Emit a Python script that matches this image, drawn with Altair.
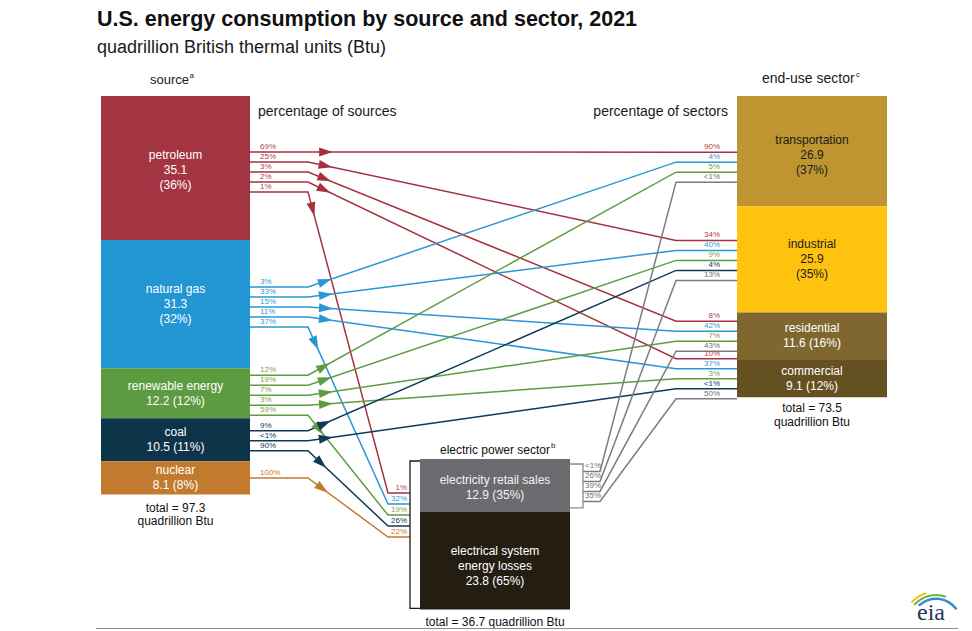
import math
import altair as alt
import pandas as pd

# ---------------- data ----------------
sources = ["petroleum", "natural gas", "renewable energy", "coal", "nuclear"]
source_values = [35.1, 31.3, 12.2, 10.5, 8.1]
source_shares = ["36%", "32%", "12%", "11%", "8%"]
source_total = 97.3

sectors = ["transportation", "industrial", "residential", "commercial"]
sector_values = [26.9, 25.9, 11.6, 9.1]
sector_shares = ["37%", "35%", "16%", "12%"]
sector_total = 73.5

power_parts = ["electricity retail sales", "electrical system energy losses"]
power_label_lines = [["electricity retail sales"], ["electrical system", "energy losses"]]
power_values = [12.9, 23.8]
power_shares = ["35%", "65%"]
power_total = 36.7

POWER = "electric power"
RETAIL = "electricity retail sales"

flow_from = ["petroleum"] * 5 + ["natural gas"] * 5 + ["renewable energy"] * 5 + ["coal"] * 3 + ["nuclear"] + [RETAIL] * 4
flow_to = (sectors + [POWER]) * 3 + ["industrial", "commercial", POWER] + [POWER] + sectors
flow_pct_source = ["69%", "25%", "3%", "2%", "1%",
                   "3%", "33%", "15%", "11%", "37%",
                   "12%", "19%", "7%", "3%", "59%",
                   "9%", "<1%", "90%",
                   "100%",
                   "<1%", "26%", "39%", "35%"]
flow_pct_target = ["90%", "34%", "8%", "10%", "1%",
                   "4%", "40%", "42%", "37%", "32%",
                   "5%", "9%", "7%", "3%", "19%",
                   "4%", "<1%", "26%",
                   "22%",
                   "<1%", "13%", "43%", "50%"]

# ---------------- layout / style ----------------
FONT = "Liberation Sans"
K = 4.1
SRC_X0, SRC_X1 = 101, 250
SEC_X0, SEC_X1 = 737, 887
PWR_X0, PWR_X1 = 420, 570
TOP = 96
PWR_TOP = 459

src_fill = ["#A33441", "#2196D3", "#5C9B40", "#0D3449", "#C27A2E"]
src_line = ["#A6323F", "#2A97D5", "#5E9C40", "#0F3A55", "#C47A2C"]
src_lbl = ["#B0404C", "#2E9AD6", "#7FA23A", "#0F3A55", "#C47A2C"]
sec_fill = ["#BE9531", "#FDC30E", "#80672F", "#655022"]
sec_text = ["#1b1b1b", "#1b1b1b", "#ffffff", "#ffffff"]
pwr_fill = ["#6A6B6E", "#241D12"]
pwr_text = ["#f2f2f2", "#ffffff"]
RETAIL_LINE = "#7B7C80"
RETAIL_LBL = "#6E6F72"

src_shift = {"petroleum": 4, "natural gas": 3, "renewable energy": 2, "coal": 1, "nuclear": 0}
sec_shift = {"transportation": 16, "industrial": 1, "residential": 0, "commercial": 0}
text_shift = {"petroleum": 2, "transportation": 4, "residential": -1, "retail": 2, "losses": 5}


def stack(values, top):
    spans, y = [], top
    for v in values:
        spans.append((y, y + v * K))
        y += v * K
    return spans


src_y = stack(source_values, TOP)
sec_y = stack(sector_values, TOP)
pwr_y = stack(power_values, PWR_TOP)

rect_rows, label_rows = [], []
for i, s in enumerate(sources):
    y0, y1 = src_y[i]
    rect_rows.append(dict(x0=SRC_X0, x1=SRC_X1, y0=y0, y1=y1, fill=src_fill[i]))
    if y1 - y0 > 100:
        lines = [s, f"{source_values[i]}", f"({source_shares[i]})"]
    else:
        lines = [s, f"{source_values[i]} ({source_shares[i]})"]
    c = (y0 + y1) / 2 + text_shift.get(s, 0)
    for j, t in enumerate(lines):
        label_rows.append(dict(x=(SRC_X0 + SRC_X1) / 2, y=c + (j - (len(lines) - 1) / 2) * 15,
                               text=t, color="#ffffff", size=12))
for i, s in enumerate(sectors):
    y0, y1 = sec_y[i]
    rect_rows.append(dict(x0=SEC_X0, x1=SEC_X1, y0=y0, y1=y1, fill=sec_fill[i]))
    if y1 - y0 > 100:
        lines = [s, f"{sector_values[i]}", f"({sector_shares[i]})"]
    else:
        lines = [s, f"{sector_values[i]} ({sector_shares[i]})"]
    c = (y0 + y1) / 2 + text_shift.get(s, 0)
    for j, t in enumerate(lines):
        label_rows.append(dict(x=(SEC_X0 + SEC_X1) / 2, y=c + (j - (len(lines) - 1) / 2) * 15,
                               text=t, color=sec_text[i], size=12))
for i, key in enumerate(["retail", "losses"]):
    y0, y1 = pwr_y[i]
    rect_rows.append(dict(x0=PWR_X0, x1=PWR_X1, y0=y0, y1=y1, fill=pwr_fill[i]))
    lines = power_label_lines[i] + [f"{power_values[i]} ({power_shares[i]})"]
    c = (y0 + y1) / 2 + text_shift.get(key, 0)
    for j, t in enumerate(lines):
        label_rows.append(dict(x=(PWR_X0 + PWR_X1) / 2, y=c + (j - (len(lines) - 1) / 2) * 15,
                               text=t, color=pwr_text[i], size=12))

# totals and headings (centered)
src_bottom = src_y[-1][1]
sec_bottom = sec_y[-1][1]
pwr_bottom = pwr_y[-1][1]
label_rows += [
    dict(x=(SRC_X0 + SRC_X1) / 2, y=src_bottom + 13, text=f"total = {source_total}", color="#111111", size=12),
    dict(x=(SRC_X0 + SRC_X1) / 2, y=src_bottom + 26, text="quadrillion Btu", color="#111111", size=12),
    dict(x=(SEC_X0 + SEC_X1) / 2, y=sec_bottom + 11, text=f"total = {sector_total}", color="#111111", size=12),
    dict(x=(SEC_X0 + SEC_X1) / 2, y=sec_bottom + 25, text="quadrillion Btu", color="#111111", size=12),
    dict(x=(PWR_X0 + PWR_X1) / 2, y=pwr_bottom + 13, text=f"total = {power_total} quadrillion Btu", color="#111111", size=12),
    dict(x=(PWR_X0 + PWR_X1) / 2, y=PWR_TOP - 9, text="electric power sector", color="#111111", size=12),
]

# ---------------- flows ----------------
node_center = {}
for i, s in enumerate(sources):
    node_center[s] = (src_y[i][0] + src_y[i][1]) / 2 + src_shift[s]
for i, s in enumerate(sectors):
    node_center[s] = (sec_y[i][0] + sec_y[i][1]) / 2 + sec_shift[s]
node_center[RETAIL] = (pwr_y[0][0] + pwr_y[0][1]) / 2 + 1

out_lists = {s: [i for i, f in enumerate(flow_from) if f == s] for s in sources + [RETAIL]}
in_lists = {t: [i for i, f in enumerate(flow_to) if f == t] for t in sectors + [POWER]}

color_of = {s: src_line[i] for i, s in enumerate(sources)}
color_of[RETAIL] = RETAIL_LINE
lblcolor_of = {s: src_lbl[i] for i, s in enumerate(sources)}
lblcolor_of[RETAIL] = RETAIL_LBL

line_rows, arrow_rows, pl_left, pl_right = [], [], [], []
for i in range(len(flow_from)):
    f, t = flow_from[i], flow_to[i]
    lst = out_lists[f]
    k = lst.index(i)
    ys = node_center[f] + (k - (len(lst) - 1) / 2) * 10
    lst2 = in_lists[t]
    k2 = lst2.index(i)
    if t == POWER:
        yt = PWR_TOP + 34 + k2 * 11
    else:
        yt = node_center[t] + (k2 - (len(lst2) - 1) / 2) * 10
    col = color_of[f]
    lcol = lblcolor_of[f]
    if f == RETAIL:
        pts = [(PWR_X1 + 13, ys), (PWR_X1 + 30, ys), (676, yt), (SEC_X0, yt)]
        pl_left.append(dict(x=PWR_X1 + 15, y=ys - 5, text=flow_pct_source[i], color=lcol, size=8))
        pl_right.append(dict(x=SEC_X0 - 17, y=yt - 5, text=flow_pct_target[i], color=lcol, size=8))
    elif t == POWER:
        pts = [(SRC_X1, ys), (308, ys), (388, yt), (PWR_X0 - 10, yt)]
        pl_left.append(dict(x=SRC_X1 + 10, y=ys - 5, text=flow_pct_source[i], color=lcol, size=8))
        pl_right.append(dict(x=PWR_X0 - 13, y=yt - 5, text=flow_pct_target[i], color=lcol, size=8))
    else:
        pts = [(SRC_X1, ys), (308, ys), (676, yt), (SEC_X0, yt)]
        pl_left.append(dict(x=SRC_X1 + 10, y=ys - 5, text=flow_pct_source[i], color=lcol, size=8))
        pl_right.append(dict(x=SEC_X0 - 17, y=yt - 5, text=flow_pct_target[i], color=lcol, size=8))
    for j, (px, py) in enumerate(pts):
        line_rows.append(dict(fid=f"f{i:02d}", step=j, x=px, y=py, color=col))
    if f != RETAIL:
        (ax, ay), (bx, by) = pts[1], pts[2]
        L = math.hypot(bx - ax, by - ay)
        d = 18
        arrow_rows.append(dict(x=ax + d * (bx - ax) / L, y=ay + d * (by - ay) / L,
                               ang=math.degrees(math.atan2(by - ay, bx - ax)) % 360, color=col))

# brackets around the electric power sector box
r0, r1 = pwr_y[0]
bracket_rows = []
for j, (px, py) in enumerate([(PWR_X0, PWR_TOP + 2), (PWR_X0 - 10, PWR_TOP + 2),
                              (PWR_X0 - 10, pwr_bottom - 1), (PWR_X0, pwr_bottom - 1)]):
    bracket_rows.append(dict(fid="L", step=j, x=px, y=py, color="#1a1a1a"))
for j, (px, py) in enumerate([(PWR_X1, r0 + 5), (PWR_X1 + 13, r0 + 5),
                              (PWR_X1 + 13, r1 - 4), (PWR_X1, r1 - 4)]):
    bracket_rows.append(dict(fid="R", step=j, x=px, y=py, color="#8a8a8a"))

# left-aligned headings
left_rows = [
    dict(x=97, y=48, text="quadrillion British thermal units (Btu)", color="#1a1a1a", size=18),
    dict(x=258, y=112, text="percentage of sources", color="#1a1a1a", size=14),
    dict(x=150, y=80, text="source", color="#1a1a1a", size=13),
    dict(x=189.5, y=76, text="a", color="#1a1a1a", size=8),
    dict(x=762, y=79, text="end-use sector", color="#1a1a1a", size=14),
    dict(x=856, y=75, text="c", color="#1a1a1a", size=8),
    dict(x=(PWR_X0 + PWR_X1) / 2 + 56, y=PWR_TOP - 13, text="b", color="#1a1a1a", size=8),
] + pl_left
right_rows = [
    dict(x=728, y=112, text="percentage of sectors", color="#1a1a1a", size=14),
] + pl_right
title_rows = [dict(x=97, y=20, text="U.S. energy consumption by source and sector, 2021", color="#111111", size=21.5)]

# ---------------- chart ----------------
xs = alt.Scale(domain=[8, 964], nice=False, zero=False)
ys_ = alt.Scale(domain=[8, 631], nice=False, zero=False, reverse=True)
X = lambda f: alt.X(f, scale=xs, axis=None)
Y = lambda f: alt.Y(f, scale=ys_, axis=None)

rects = alt.Chart(pd.DataFrame(rect_rows)).mark_rect().encode(
    x=X("x0:Q"), x2="x1:Q", y=Y("y0:Q"), y2="y1:Q", color=alt.Color("fill:N", scale=None))

flow_lines = alt.Chart(pd.DataFrame(line_rows)).mark_line(strokeWidth=1.5).encode(
    x=X("x:Q"), y=Y("y:Q"), detail="fid:N", order="step:Q", color=alt.Color("color:N", scale=None))

brackets = alt.Chart(pd.DataFrame(bracket_rows)).mark_line(strokeWidth=1.3).encode(
    x=X("x:Q"), y=Y("y:Q"), detail="fid:N", order="step:Q", color=alt.Color("color:N", scale=None))

ARROW = "M-1,-0.65L1,0L-1,0.65Z"
arrows = alt.Chart(pd.DataFrame(arrow_rows)).mark_point(
    shape=ARROW, filled=True, size=190, opacity=1, strokeWidth=0).encode(
    x=X("x:Q"), y=Y("y:Q"), angle=alt.Angle("ang:Q", scale=None), color=alt.Color("color:N", scale=None))


def text_layer(rows, align, weight="normal", font=FONT):
    return alt.Chart(pd.DataFrame(rows)).mark_text(
        align=align, baseline="middle", font=font, fontWeight=weight).encode(
        x=X("x:Q"), y=Y("y:Q"), text="text:N",
        color=alt.Color("color:N", scale=None), size=alt.Size("size:Q", scale=None))


center_text = text_layer(label_rows, "center")
left_text = text_layer(left_rows, "left")
right_text = text_layer(right_rows, "right")
title_text = text_layer(title_rows, "left", "bold")

# bottom rule and logo
rule = alt.Chart(pd.DataFrame([dict(x=96, x2=958, y=628.5)])).mark_rule(
    color="#8c8c8c", strokeWidth=1).encode(x=X("x:Q"), x2="x2:Q", y=Y("y:Q"))
logo_pt = pd.DataFrame([dict(x=936, y=624)])
arc_blue = alt.Chart(logo_pt).mark_arc(radius=26.5, radius2=24, theta=5.53, theta2=7.23, color="#2E8FD0").encode(
    x=X("x:Q"), y=Y("y:Q"))
arc_green = alt.Chart(logo_pt).mark_arc(radius=30, radius2=28, theta=5.43, theta2=6.63, color="#6DB33F").encode(
    x=X("x:Q"), y=Y("y:Q"))
arc_yellow = alt.Chart(logo_pt).mark_arc(radius=33.5, radius2=31.5, theta=5.43, theta2=5.98, color="#F2C418").encode(
    x=X("x:Q"), y=Y("y:Q"))
logo_text = alt.Chart(pd.DataFrame([dict(x=931, y=613, text="eia", color="#21385A", size=24)])).mark_text(
    align="center", baseline="middle", font="Liberation Serif").encode(
    x=X("x:Q"), y=Y("y:Q"), text="text:N",
    color=alt.Color("color:N", scale=None), size=alt.Size("size:Q", scale=None))

chart = alt.layer(
    rects, flow_lines, brackets, arrows, center_text, left_text, right_text, title_text,
    rule, arc_yellow, arc_green, arc_blue, logo_text
).properties(
    width=956, height=623, autosize=alt.AutoSizeParams(type="none"), padding=0, background="white"
).configure_view(stroke=None)

chart.save("out.html", embed_options={"renderer": "svg", "actions": False})
